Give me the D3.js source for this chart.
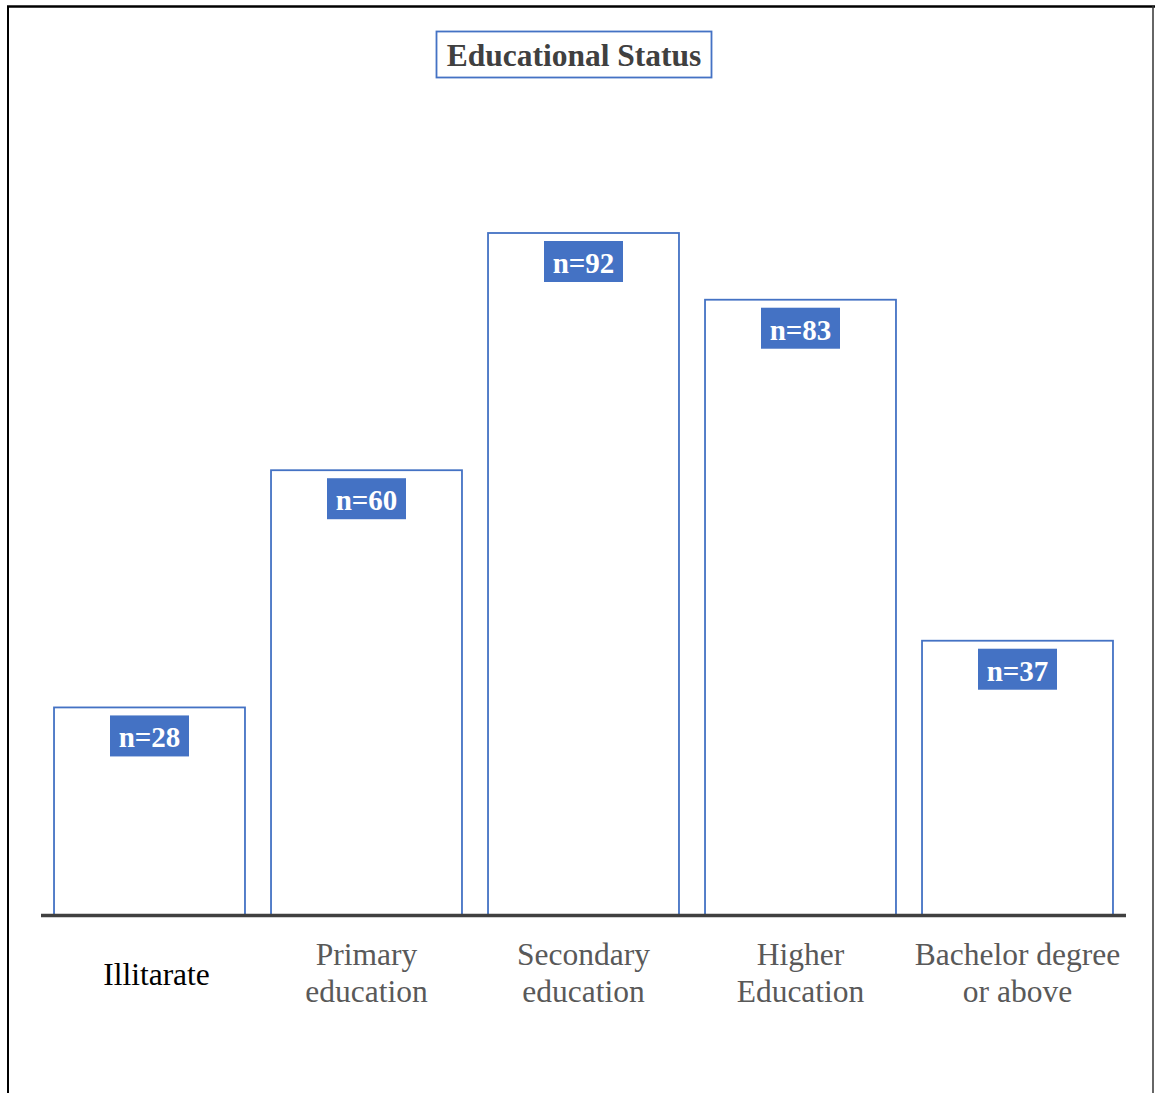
<!DOCTYPE html>
<html>
<head>
<meta charset="utf-8">
<script src="https://cdn.jsdelivr.net/npm/d3@7"></script>
<style>
	body { margin: 0; background: #fff; }
	svg { display: block; }
	text { font-family: "Liberation Serif", "Times New Roman", serif; }
</style>
</head>
<body>
<div id="chart"></div>
<script>
// Data
const categories = ["Illitarate", "Primary education", "Secondary education", "Higher Education", "Bachelor degree or above"];
const categoryLines = [["Illitarate"], ["Primary", "education"], ["Secondary", "education"], ["Higher", "Education"], ["Bachelor degree", "or above"]];
const counts = [28, 60, 92, 83, 37];
const title = "Educational Status";

const width = 1155, height = 1093;
const blue = "#4472C4";

const svg = d3.select("#chart").append("svg")
	.attr("width", width).attr("height", height);

// outer frame (top, left, right)
svg.append("line").attr("x1", 7).attr("x2", width).attr("y1", 6.5).attr("y2", 6.5)
	.attr("stroke", "#000").attr("stroke-width", 2.5);
svg.append("line").attr("x1", 8).attr("x2", 8).attr("y1", 6).attr("y2", height)
	.attr("stroke", "#000").attr("stroke-width", 2);
svg.append("line").attr("x1", 1153).attr("x2", 1153).attr("y1", 6).attr("y2", height)
	.attr("stroke", "#333").attr("stroke-width", 1.5);

// Scales
const baseY = 915;
const scaleX = d3.scaleBand(categories, [41, 1126]).paddingInner(0.12).paddingOuter(0.06);
const scaleY = d3.scaleLinear([0, 92], [baseY, 233]);

// Bars
svg.append("g").selectAll("rect.bar")
	.data(categories)
	.join("rect")
	.classed("bar", true)
	.attr("x", d => scaleX(d))
	.attr("y", (d, i) => scaleY(counts[i]))
	.attr("width", scaleX.bandwidth())
	.attr("height", (d, i) => scaleY(0) - scaleY(counts[i]))
	.attr("fill", "#fff")
	.attr("stroke", blue)
	.attr("stroke-width", 1.8);

// Baseline
svg.append("line")
	.attr("x1", 41).attr("x2", 1126)
	.attr("y1", baseY + 0.5).attr("y2", baseY + 0.5)
	.attr("stroke", "#404040").attr("stroke-width", 3.5);

// Value labels
const labels = svg.append("g").selectAll("g.lab")
	.data(categories)
	.join("g")
	.classed("lab", true)
	.attr("transform", (d, i) => `translate(${scaleX(d) + scaleX.bandwidth() / 2}, ${scaleY(counts[i]) + 8})`);
labels.append("rect")
	.attr("x", -39.5).attr("y", 0).attr("width", 79).attr("height", 41)
	.attr("fill", blue);
labels.append("text")
	.attr("y", 32)
	.attr("text-anchor", "middle")
	.attr("fill", "#fff")
	.attr("font-weight", "bold")
	.attr("font-size", 29)
	.text((d, i) => "n=" + counts[i]);

// Category labels
const cats = svg.append("g").selectAll("text.cat")
	.data(categories)
	.join("text")
	.classed("cat", true)
	.attr("text-anchor", "middle")
	.attr("font-size", 31.5)
	.attr("fill", (d, i) => i === 0 ? "#000" : "#595959")
	.attr("transform", (d, i) => `translate(${scaleX(d) + scaleX.bandwidth() / 2 + (i === 0 ? 7 : 0)}, 0)`);
cats.selectAll("tspan")
	.data((d, i) => categoryLines[i].map((t, j, a) => ({t, j, n: a.length})))
	.join("tspan")
	.attr("x", 0)
	.attr("y", d => d.n === 1 ? 985 : 965 + d.j * 37)
	.text(d => d.t);

// Title box
svg.append("rect")
	.attr("x", 436.5).attr("y", 31.5).attr("width", 275).attr("height", 46)
	.attr("fill", "#fff").attr("stroke", blue).attr("stroke-width", 1.8);
svg.append("text")
	.attr("x", 574).attr("y", 66)
	.attr("text-anchor", "middle")
	.attr("font-weight", "bold")
	.attr("font-size", 31.5)
	.attr("fill", "#404040")
	.text(title);
</script>
</body>
</html>
